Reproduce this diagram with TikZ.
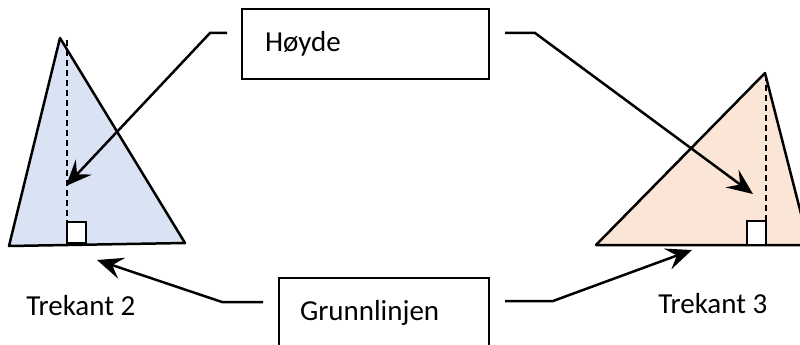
\documentclass[tikz,border=0pt]{standalone}
\usepackage{fontspec}
\setmainfont{Carlito}
\usetikzlibrary{arrows.meta}
\definecolor{tribl}{HTML}{DAE3F3}
\definecolor{tripe}{HTML}{FBE5D6}
\begin{document}
\begin{tikzpicture}[x=1pt,y=-1pt,line width=2.5pt,
  txt/.style={font=\fontsize{29}{34}\selectfont},
  box/.style={draw,rectangle,txt,line width=2.5pt,minimum height=70pt,align=left,inner ysep=0pt},
  lbl/.style={txt,anchor=base west,inner sep=0pt},
  arr/.style={-{Stealth[length=26pt,width=22pt,inset=10pt]},line width=2.5pt},
  tri/.style={draw,line width=2.5pt,line join=round},
  alt/.style={draw,dash pattern=on 6pt off 4pt,line width=2.2pt},
  sq/.style={draw,fill=white,line width=2.5pt}]
\useasboundingbox (0,0) rectangle (800,345);
\clip (0,0) rectangle (800,345);
% triangles
\coordinate (a2) at (60,38);
\coordinate (b2) at (9,246);
\coordinate (c2) at (185,243);
\filldraw[tri,fill=tribl] (a2) -- (b2) -- (c2) -- cycle;
\draw[alt] (67,40) -- (67,222);
\draw[sq] (67,222) rectangle (86,243);
\coordinate (a3) at (765,73);
\coordinate (b3) at (596,245);
\coordinate (c3) at (809,245);
\filldraw[tri,fill=tripe] (a3) -- (b3) -- (c3) -- cycle;
\draw[alt] (766,75) -- (766,221);
\draw[sq] (747,221) rectangle (766,245);
% boxes
\node[box,inner xsep=23pt,text width=201pt] (hoyde) at (365.5,44) {Høyde};
\node[box,inner xsep=21pt,text width=168pt] (grunn) at (384,313) {Grunnlinjen};
% labels
\node[lbl] (t2) at (25,315) {Trekant 2};
\node[lbl] (t3) at (657,313) {Trekant 3};
% connectors
\coordinate (hL) at (227,33);
\coordinate (hLc) at (210,33);
\coordinate (t2h) at (66,186);
\coordinate (hR) at (505,33);
\coordinate (hRc) at (535,33);
\coordinate (t3h) at (753,194);
\coordinate (gL) at (263,302);
\coordinate (gLc) at (222,302);
\coordinate (t2g) at (97,260);
\coordinate (gR) at (505,301);
\coordinate (gRc) at (553,301);
\coordinate (t3g) at (692,250);
\draw[arr] (hL) -- (hLc) -- (t2h);
\draw[arr] (hR) -- (hRc) -- (t3h);
\draw[arr] (gL) -- (gLc) -- (t2g);
\draw[arr] (gR) -- (gRc) -- (t3g);
\end{tikzpicture}
\end{document}
